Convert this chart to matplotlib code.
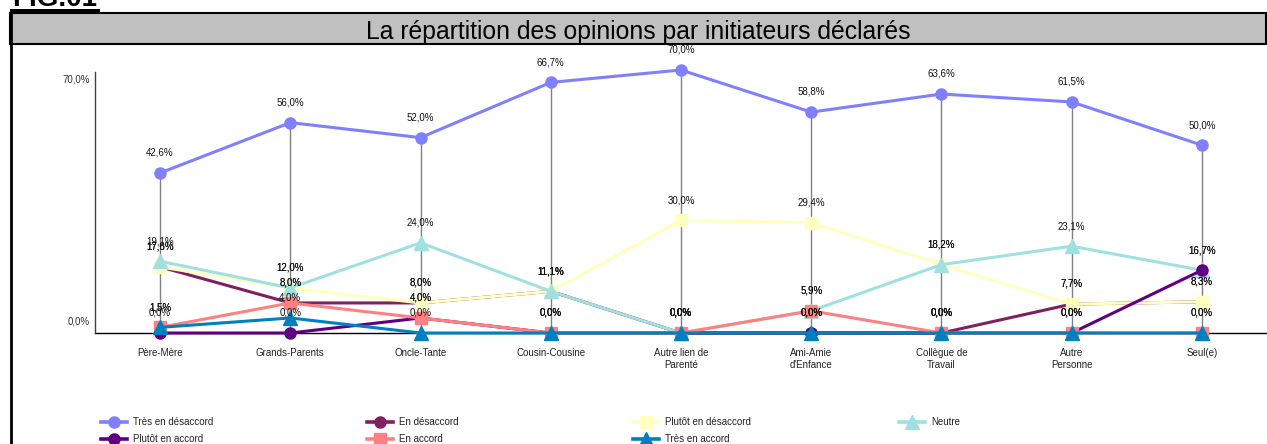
import matplotlib
matplotlib.use("Agg")
import matplotlib.pyplot as plt
from matplotlib.patches import Rectangle
from matplotlib.lines import Line2D
from matplotlib.transforms import ScaledTranslation
import numpy as np

categories = ["Père-Mère", "Grands-Parents", "Oncle-Tante", "Cousin-Cousine",
              "Autre lien de\nParenté", "Ami-Amie\nd'Enfance", "Collègue de\nTravail",
              "Autre\nPersonne", "Seul(e)"]

tres_desaccord = [42.6, 56.0, 52.0, 66.7, 70.0, 58.8, 63.6, 61.5, 50.0]
en_desaccord = [17.6, 8.0, 8.0, 11.1, 0.0, 0.0, 0.0, 7.7, 8.3]
plutot_desaccord = [17.6, 12.0, 8.0, 11.1, 30.0, 29.4, 18.2, 7.7, 8.3]
neutre = [19.1, 12.0, 24.0, 11.1, 0.0, 5.9, 18.2, 23.1, 16.7]
plutot_accord = [0.0, 0.0, 4.0, 0.0, 0.0, 0.0, 0.0, 0.0, 16.7]
en_accord = [1.5, 8.0, 4.0, 0.0, 0.0, 5.9, 0.0, 0.0, 0.0]
tres_accord = [1.5, 4.0, 0.0, 0.0, 0.0, 0.0, 0.0, 0.0, 0.0]

series = [
    ("Très en désaccord", tres_desaccord, "#8080FF", "o"),
    ("En désaccord", en_desaccord, "#802060", "o"),
    ("Plutôt en désaccord", plutot_desaccord, "#FFFFC0", "s"),
    ("Neutre", neutre, "#A0E0E0", "^"),
    ("Plutôt en accord", plutot_accord, "#600080", "o"),
    ("En accord", en_accord, "#FF8080", "s"),
    ("Très en accord", tres_accord, "#0080C0", "^"),
]

plt.rcParams['font.family'] = ['Liberation Sans', 'DejaVu Sans']

W, H = 1267, 444
fig = plt.figure(figsize=(W / 100, H / 100), dpi=100)

def fx(px):
    return px / W

def fy(py):
    return (H - py) / H

# plot area
ax = fig.add_axes([fx(95), fy(333), 0.925, (333 - 70) / H])
x = np.arange(len(categories))

# drop lines from the top value down to the axis
tops = np.max(np.array([s[1] for s in series]), axis=0)
ax.vlines(x, 0, tops, color="#808080", lw=1.0, zorder=1.5)

handles = {}
for k, (name, vals, col, mk) in enumerate(series):
    ms = 9.5 if mk == "^" else 8
    ax.plot(x, vals, color=col, lw=2.2, marker=mk, ms=ms, mec=col,
            zorder=3 + k, clip_on=False)
    handles[name] = Line2D([], [], color=col, lw=2.6, marker=mk, ms=ms, mec=col)
    for xi, v in zip(x, vals):
        ax.annotate(f"{v:.1f}%".replace(".", ","), (xi, v), xytext=(0, 14.5),
                    textcoords="offset points", ha="center", va="center",
                    fontsize=7, color="#111111", zorder=20, annotation_clip=False)

ax.set_xlim(-0.5, len(categories) - 0.5)
ax.set_ylim(0, 70)
ax.set_xticks(x)
ax.set_xticklabels(categories, fontsize=7, color="#222222", linespacing=1.35)
ax.tick_params(axis="x", length=0, pad=10.5)
ax.set_yticks([0, 70])
ax.set_yticklabels(["0,0%", "70,0%"], fontsize=7, color="#333333")
ax.tick_params(axis="y", length=0, pad=3.5)
ylabs = ax.get_yticklabels()
ylabs[0].set_va("bottom")
ylabs[0].set_transform(ylabs[0].get_transform() + ScaledTranslation(0, 5 / 72, fig.dpi_scale_trans))
ylabs[1].set_va("top")
ylabs[1].set_transform(ylabs[1].get_transform() + ScaledTranslation(0, -3 / 72, fig.dpi_scale_trans))

for s in ["top", "right"]:
    ax.spines[s].set_visible(False)
ax.spines["left"].set_color("#404040")
ax.spines["left"].set_linewidth(1.0)
ax.spines["left"].set_bounds(0, 69.5)
ax.spines["bottom"].set_color("black")
ax.spines["bottom"].set_linewidth(1.0)
ax.spines["bottom"].set_zorder(1)
ax.patch.set_visible(False)

# frame, title bar and heading
fig.add_artist(Line2D([fx(11), fx(11)], [0, fy(13)], color="black", lw=2,
                      transform=fig.transFigure))
fig.add_artist(Rectangle((fx(10), fy(44)), fx(1256), 31 / H, facecolor="#C0C0C0",
                         edgecolor="black", lw=1.5, transform=fig.transFigure))
fig.add_artist(Rectangle((fx(10), fy(13)), fx(90), 4 / H, facecolor="black",
                         edgecolor="none", transform=fig.transFigure))
fig.text(fx(12), fy(6), "FIG.01", fontsize=20, weight="bold", va="baseline", ha="left")

fig.text(fx(638), fy(39.5), "La répartition des opinions par initiateurs déclarés",
         ha="center", va="baseline", color="black", family="Liberation Sans",
         fontsize=17.8)

# legend laid out in four columns
columns = [["Très en désaccord", "Plutôt en accord"],
           ["En désaccord", "En accord"],
           ["Plutôt en désaccord", "Très en accord"],
           ["Neutre"]]
col_x = [101, 367, 633, 899]
for cx, labs in zip(col_x, columns):
    fig.legend([handles[l] for l in labs], labs, loc="upper left",
               bbox_to_anchor=(fx(cx), fy(417)), frameon=False, fontsize=7,
               handlelength=2.7, handletextpad=0.6, labelspacing=0.75,
               borderpad=0, borderaxespad=0, labelcolor="#222222")

fig.savefig("out.png", dpi=100)
